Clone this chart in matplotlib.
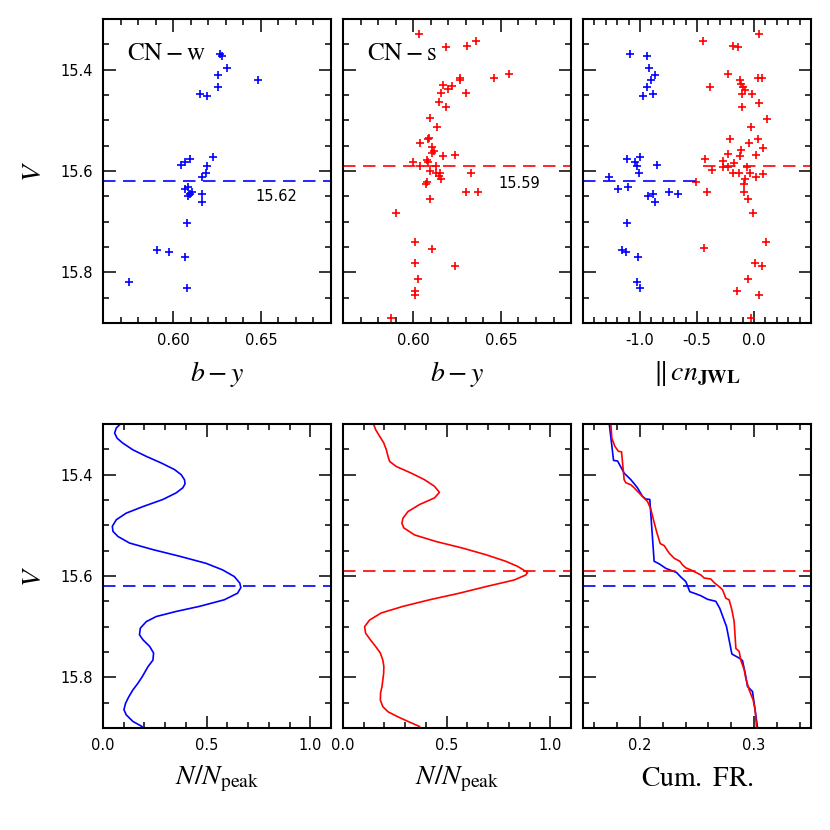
import numpy as np
import matplotlib
matplotlib.use("Agg")
import matplotlib.pyplot as plt
from matplotlib.ticker import MultipleLocator, FormatStrFormatter, FixedLocator

plt.rcParams['font.family'] = ['DejaVu Sans']
plt.rcParams['mathtext.fontset'] = 'stix'

# --- CN-weak stars: V, b-y, delta cn_JWL ---
w_V = [15.370, 15.373, 15.397, 15.410, 15.420, 15.434, 15.448, 15.451,
       15.572, 15.577, 15.583, 15.588, 15.590, 15.603, 15.611, 15.631,
       15.636, 15.641, 15.645, 15.645, 15.649, 15.662, 15.702, 15.755,
       15.759, 15.769, 15.819, 15.830]
w_by = [0.6269, 0.6278, 0.6306, 0.6255, 0.6486, 0.6255, 0.6155, 0.6195,
        0.6227, 0.6098, 0.6066, 0.6047, 0.6195, 0.6185, 0.6166, 0.6085,
        0.6066, 0.6110, 0.6094, 0.6166, 0.6085, 0.6166, 0.6079, 0.5909,
        0.5977, 0.6066, 0.5750, 0.6079]
w_cn = [-1.091, -0.935, -0.917, -0.865, -0.906, -0.941, -0.889, -0.970,
        -1.004, -1.115, -1.048, -0.851, -1.028, -1.010, -1.271, -1.106,
        -1.196, -0.743, -0.883, -0.663, -0.932, -0.865, -1.111, -1.161,
        -1.120, -1.019, -1.030, -1.004]

# --- CN-strong stars (b-y panel) ---
s_V = [15.329, 15.344, 15.353, 15.355, 15.409, 15.417, 15.417, 15.421,
       15.430, 15.433, 15.438, 15.446, 15.446, 15.464, 15.473, 15.496,
       15.514, 15.535, 15.537, 15.544, 15.553, 15.560, 15.565, 15.570,
       15.569, 15.579, 15.583, 15.583, 15.591, 15.591, 15.599, 15.603,
       15.604, 15.603, 15.610, 15.616, 15.621, 15.626, 15.642, 15.642,
       15.656, 15.682, 15.741, 15.753, 15.782, 15.788, 15.813, 15.836,
       15.845, 15.891]
s_by = [0.6032, 0.6360, 0.6308, 0.6189, 0.6549, 0.6458, 0.6269, 0.6269,
        0.6170, 0.6221, 0.6198, 0.6161, 0.6299, 0.6147, 0.6189, 0.6098,
        0.6138, 0.6090, 0.6085, 0.6037, 0.6110, 0.6119, 0.6110, 0.6170,
        0.6240, 0.6079, 0.6085, 0.6000, 0.6037, 0.6132, 0.6098, 0.6132,
        0.6151, 0.6331, 0.6147, 0.6161, 0.6079, 0.6072, 0.6299, 0.6369,
        0.6098, 0.5901, 0.6011, 0.6110, 0.6011, 0.6240, 0.6030, 0.6011,
        0.6011, 0.5871]

# --- CN-strong stars (cn panel) ---
s_V2 = [15.329, 15.344, 15.353, 15.355, 15.409, 15.417, 15.417, 15.421,
        15.428, 15.434, 15.434, 15.440, 15.448, 15.448, 15.465, 15.473,
        15.497, 15.514, 15.536, 15.536, 15.545, 15.554, 15.559, 15.566,
        15.570, 15.569, 15.577, 15.581, 15.584, 15.592, 15.592, 15.592,
        15.598, 15.603, 15.603, 15.604, 15.605, 15.611, 15.616, 15.621,
        15.626, 15.642, 15.642, 15.655, 15.682, 15.741, 15.752, 15.782,
        15.787, 15.813, 15.836, 15.845, 15.891]
s_cn = [0.042, -0.448, -0.184, -0.143, -0.230, 0.033, 0.071, -0.126,
        -0.111, -0.390, -0.094, -0.083, -0.103, -0.019, 0.042, -0.103,
        0.117, -0.022, -0.207, 0.033, -0.045, 0.077, -0.115, -0.228,
        -0.120, 0.016, -0.430, -0.274, -0.176, -0.274, -0.230, -0.057,
        -0.372, -0.184, -0.132, -0.039, 0.083, 0.019, -0.083, -0.506,
        -0.089, -0.410, -0.090, -0.054, -0.007, 0.103, -0.437, 0.013,
        0.071, -0.054, -0.150, 0.048, -0.022]

# --- generalized histograms ---
hw_V = [15.300, 15.308, 15.318, 15.328, 15.337, 15.351, 15.364, 15.377,
        15.390, 15.400, 15.410, 15.418, 15.426, 15.436, 15.449, 15.463,
        15.476, 15.489, 15.502, 15.512, 15.522, 15.535, 15.548, 15.561,
        15.575, 15.588, 15.601, 15.614, 15.623, 15.634, 15.647, 15.660,
        15.670, 15.680, 15.690, 15.703, 15.716, 15.726, 15.739, 15.752,
        15.766, 15.779, 15.799, 15.812, 15.825, 15.838, 15.851, 15.864,
        15.874, 15.887, 15.897]
hw_N = [0.084, 0.064, 0.056, 0.068, 0.093, 0.144, 0.209, 0.281,
        0.345, 0.377, 0.393, 0.396, 0.385, 0.353, 0.289, 0.193,
        0.112, 0.064, 0.045, 0.048, 0.072, 0.128, 0.241, 0.369,
        0.497, 0.577, 0.633, 0.660, 0.665, 0.649, 0.585, 0.465,
        0.353, 0.257, 0.209, 0.180, 0.176, 0.193, 0.225, 0.244,
        0.241, 0.217, 0.189, 0.168, 0.144, 0.125, 0.109, 0.101,
        0.112, 0.144, 0.188]

hs_V = [15.301, 15.311, 15.324, 15.337, 15.351, 15.364, 15.374, 15.384,
        15.397, 15.410, 15.423, 15.435, 15.446, 15.459, 15.473, 15.486,
        15.496, 15.505, 15.519, 15.532, 15.545, 15.558, 15.571, 15.581,
        15.589, 15.593, 15.598, 15.608, 15.621, 15.634, 15.647, 15.660,
        15.673, 15.687, 15.700, 15.713, 15.726, 15.739, 15.752, 15.766,
        15.779, 15.792, 15.805, 15.818, 15.831, 15.845, 15.858, 15.868,
        15.878, 15.887, 15.897]
hs_N = [0.148, 0.157, 0.176, 0.196, 0.209, 0.217, 0.225, 0.257,
        0.329, 0.393, 0.441, 0.465, 0.441, 0.369, 0.313, 0.289,
        0.284, 0.293, 0.345, 0.449, 0.577, 0.689, 0.785, 0.842,
        0.874, 0.890, 0.882, 0.825, 0.689, 0.561, 0.417, 0.289,
        0.184, 0.128, 0.104, 0.109, 0.132, 0.157, 0.180, 0.192,
        0.197, 0.196, 0.192, 0.188, 0.181, 0.180, 0.192, 0.217,
        0.265, 0.313, 0.369]

# --- cumulative fractions ---
cw_V = [15.299, 15.372, 15.373, 15.397, 15.410, 15.426, 15.443, 15.448,
        15.449, 15.571, 15.576, 15.585, 15.590, 15.593, 15.602, 15.611,
        15.631, 15.634, 15.639, 15.646, 15.650, 15.664, 15.700, 15.754,
        15.762, 15.767, 15.792, 15.818, 15.828, 15.899]
cw_F = [0.1730, 0.1768, 0.1803, 0.1861, 0.1920, 0.1978, 0.2022, 0.2051,
        0.2086, 0.2124, 0.2168, 0.2227, 0.2285, 0.2320, 0.2358, 0.2402,
        0.2437, 0.2475, 0.2534, 0.2592, 0.2665, 0.2700, 0.2759, 0.2806,
        0.2870, 0.2899, 0.2923, 0.2943, 0.2987, 0.3031]
cs_V = [15.299, 15.328, 15.344, 15.354, 15.355, 15.410, 15.416, 15.420,
        15.426, 15.433, 15.443, 15.453, 15.468, 15.482, 15.512, 15.536,
        15.540, 15.555, 15.565, 15.571, 15.578, 15.584, 15.588, 15.593,
        15.598, 15.604, 15.606, 15.613, 15.621, 15.627, 15.644, 15.647,
        15.667, 15.690, 15.743, 15.749, 15.766, 15.785, 15.802, 15.825,
        15.845, 15.864, 15.899]
cs_F = [0.1744, 0.1753, 0.1779, 0.1811, 0.1838, 0.1861, 0.1876, 0.1920,
        0.1949, 0.1978, 0.2022, 0.2066, 0.2095, 0.2110, 0.2145, 0.2177,
        0.2212, 0.2256, 0.2300, 0.2349, 0.2373, 0.2402, 0.2446, 0.2490,
        0.2534, 0.2563, 0.2621, 0.2650, 0.2694, 0.2724, 0.2753, 0.2782,
        0.2806, 0.2826, 0.2841, 0.2870, 0.2884, 0.2914, 0.2928, 0.2958,
        0.2993, 0.3010, 0.3022]

V_peak_w = 15.62
V_peak_s = 15.59
cn_range_w = (-1.5, -0.5)
cn_range_s = (-0.45, 0.5)
cn_ticks = [-1.0, -0.5, 0.0]

BLUE = (0, 0, 1)
RED = (1, 0, 0)
DASH = (0, (7.5, 4.5))

fig = plt.figure(figsize=(8.3, 8.3), dpi=100)
xs = [0.1241, 0.4133, 0.7024]
w, h = 0.2747, 0.3663
ytop, ybot = 0.6108, 0.1229
axes = [[fig.add_axes([x, ytop, w, h]) for x in xs],
        [fig.add_axes([x, ybot, w, h]) for x in xs]]


def style(ax, xmaj, xmin, fmt, ylabels):
    ax.set_ylim(15.9, 15.3)
    if isinstance(xmaj, list):
        ax.xaxis.set_major_locator(FixedLocator(xmaj))
    else:
        ax.xaxis.set_major_locator(MultipleLocator(xmaj))
    ax.xaxis.set_minor_locator(MultipleLocator(xmin))
    ax.xaxis.set_major_formatter(FormatStrFormatter(fmt))
    ax.yaxis.set_major_locator(MultipleLocator(0.2))
    ax.yaxis.set_minor_locator(MultipleLocator(0.05))
    ax.yaxis.set_major_formatter(FormatStrFormatter('%.1f'))
    ax.tick_params(which='both', direction='in', top=True, right=True,
                   width=1.1, labelsize=10.5, pad=7)
    ax.tick_params(which='major', length=9)
    ax.tick_params(which='minor', length=4.5)
    if not ylabels:
        ax.tick_params(labelleft=False)
    for sp in ax.spines.values():
        sp.set_linewidth(1.5)


pk = dict(marker='+', ls='none', ms=6, mew=1.2)
LAB = 20

# top row
ax = axes[0][0]
ax.plot(w_by, w_V, color=BLUE, **pk)
ax.axhline(V_peak_w, color=BLUE, ls=DASH, lw=1.2)
ax.set_xlim(0.56, 0.69)
style(ax, 0.05, 0.01, '%.2f', True)
ax.text(0.104, 0.865, r'$\mathrm{CN}-\mathrm{w}$', transform=ax.transAxes, fontsize=18)
ax.text(0.6589, 15.651, '15.62', ha='center', va='center', fontsize=10.5)
ax.set_xlabel(r'$b-y$', fontsize=LAB, labelpad=8)
ax.set_ylabel(r'$V$', fontsize=LAB, labelpad=10)

ax = axes[0][1]
ax.plot(s_by, s_V, color=RED, **pk)
ax.axhline(V_peak_s, color=RED, ls=DASH, lw=1.2)
ax.set_xlim(0.56, 0.69)
style(ax, 0.05, 0.01, '%.2f', False)
ax.text(0.105, 0.865, r'$\mathrm{CN}-\mathrm{s}$', transform=ax.transAxes, fontsize=18)
ax.text(0.6606, 15.624, '15.59', ha='center', va='center', fontsize=10.5)
ax.set_xlabel(r'$b-y$', fontsize=LAB, labelpad=8)

ax = axes[0][2]
ax.plot(w_cn, w_V, color=BLUE, **pk)
ax.plot(s_cn, s_V2, color=RED, **pk)
ax.plot(cn_range_w, [V_peak_w] * 2, color=BLUE, ls=DASH, lw=1.2)
ax.plot(cn_range_s, [V_peak_s] * 2, color=RED, ls=DASH, lw=1.2)
ax.set_xlim(-1.5, 0.5)
style(ax, cn_ticks, 0.1, '%.1f', False)
ax.set_xlabel(r'$\Vert\, cn_{\mathbf{JWL}}$', fontsize=LAB, labelpad=8)

# bottom row
ax = axes[1][0]
ax.plot(hw_N, hw_V, color=BLUE, lw=1.2)
ax.axhline(V_peak_w, color=BLUE, ls=DASH, lw=1.2)
ax.set_xlim(0, 1.1)
style(ax, 0.5, 0.1, '%.1f', True)
ax.set_xlabel(r'$N/N_{\rm peak}$', fontsize=LAB, labelpad=8)
ax.set_ylabel(r'$V$', fontsize=LAB, labelpad=10)

ax = axes[1][1]
ax.plot(hs_N, hs_V, color=RED, lw=1.2)
ax.axhline(V_peak_s, color=RED, ls=DASH, lw=1.2)
ax.set_xlim(0, 1.1)
style(ax, 0.5, 0.1, '%.1f', False)
ax.set_xlabel(r'$N/N_{\rm peak}$', fontsize=LAB, labelpad=8)

ax = axes[1][2]
ax.plot(cw_F, cw_V, color=BLUE, lw=1.2)
ax.plot(cs_F, cs_V, color=RED, lw=1.2)
ax.axhline(V_peak_w, color=BLUE, ls=DASH, lw=1.2)
ax.axhline(V_peak_s, color=RED, ls=DASH, lw=1.2)
ax.set_xlim(0.15, 0.35)
style(ax, 0.1, 0.02, '%.1f', False)
ax.set_xlabel(r'$\mathrm{Cum.\ FR.}$', fontsize=LAB, labelpad=8)

fig.savefig('out.png', dpi=100)
